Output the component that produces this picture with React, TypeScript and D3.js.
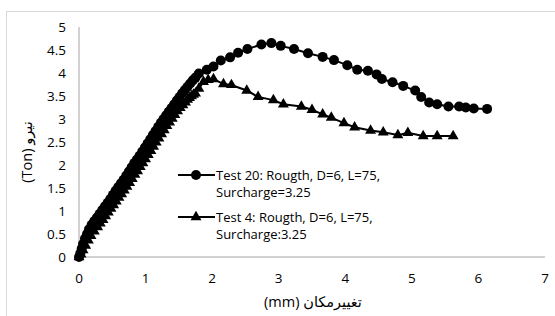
import React from 'react';
import * as d3 from 'd3';

// Test 20 (circles)
const test20X = [0, 0.02, 0.04, 0.06, 0.09, 0.12, 0.15, 0.19, 0.23, 0.27, 0.31, 0.35, 0.39, 0.43, 0.47, 0.51, 0.55, 0.59, 0.63, 0.67, 0.71, 0.75, 0.79, 0.83, 0.87, 0.91, 0.95, 0.99, 1.03, 1.07, 1.11, 1.15, 1.19, 1.23, 1.27, 1.31, 1.35, 1.39, 1.43, 1.47, 1.51, 1.55, 1.59, 1.63, 1.67, 1.71, 1.75, 1.8,
  1.92, 2.02, 2.13, 2.27, 2.39, 2.53, 2.74, 2.89, 3.03, 3.23, 3.44, 3.66, 3.83, 4.03, 4.18, 4.34, 4.47, 4.55, 4.71, 4.87, 5.05, 5.14, 5.26, 5.38, 5.55, 5.71, 5.81, 5.93, 6.13];
const test20Y = [0, 0.08, 0.18, 0.28, 0.4, 0.5, 0.6, 0.7, 0.78, 0.86, 0.94, 1.02, 1.1, 1.18, 1.26, 1.35, 1.44, 1.52, 1.6, 1.68, 1.77, 1.86, 1.95, 2.04, 2.12, 2.2, 2.29, 2.38, 2.47, 2.56, 2.65, 2.74, 2.83, 2.92, 3.0, 3.08, 3.16, 3.24, 3.32, 3.4, 3.48, 3.56, 3.63, 3.7, 3.77, 3.84, 3.9, 3.99,
  4.07, 4.14, 4.27, 4.34, 4.44, 4.52, 4.62, 4.65, 4.59, 4.52, 4.43, 4.35, 4.28, 4.17, 4.07, 4.05, 3.97, 3.87, 3.8, 3.72, 3.62, 3.48, 3.36, 3.32, 3.27, 3.27, 3.25, 3.23, 3.22];

// Test 4 (triangles)
const test4X = [0, 0.03, 0.06, 0.1, 0.14, 0.18, 0.23, 0.28, 0.32, 0.36, 0.4, 0.44, 0.48, 0.52, 0.56, 0.6, 0.64, 0.68, 0.72, 0.76, 0.8, 0.84, 0.88, 0.92, 0.96, 1.0, 1.04, 1.08, 1.12, 1.16, 1.2, 1.24, 1.28, 1.32, 1.36, 1.4, 1.44, 1.48, 1.52, 1.56, 1.6, 1.63, 1.66, 1.69, 1.72, 1.75, 1.8, 1.87, 1.94, 2.02,
  2.17, 2.29, 2.52, 2.69, 2.92, 3.07, 3.34, 3.5, 3.66, 3.79, 3.98, 4.14, 4.38, 4.57, 4.79, 4.94, 5.17, 5.38, 5.62];
const test4Y = [0, 0.06, 0.15, 0.25, 0.36, 0.46, 0.56, 0.65, 0.73, 0.81, 0.89, 0.97, 1.05, 1.13, 1.21, 1.29, 1.37, 1.45, 1.53, 1.61, 1.7, 1.79, 1.87, 1.96, 2.04, 2.13, 2.22, 2.31, 2.4, 2.49, 2.58, 2.67, 2.76, 2.85, 2.93, 3.01, 3.09, 3.17, 3.24, 3.3, 3.36, 3.42, 3.46, 3.5, 3.53, 3.56, 3.66, 3.81, 3.85, 3.87,
  3.76, 3.74, 3.62, 3.48, 3.41, 3.32, 3.27, 3.2, 3.1, 3.03, 2.91, 2.82, 2.75, 2.71, 2.65, 2.7, 2.63, 2.63, 2.63];

const xTicks = [0, 1, 2, 3, 4, 5, 6, 7];
const yTicks = [0, 0.5, 1, 1.5, 2, 2.5, 3, 3.5, 4, 4.5, 5];

const legendLines = [
  ['Test 20: Rougth, D=6, L=75,', 'Surcharge=3.25'],
  ['Test 4: Rougth, D=6, L=75,', 'Surcharge:3.25'],
];

const width = 555;
const height = 316;
const font = '"Open Sans", "DejaVu Sans", sans-serif';

export default function App() {
  const x = d3.scaleLinear().domain([0, 7]).range([79, 545]);
  const y = d3.scaleLinear().domain([0, 5]).range([257, 27]);

  const s20 = test20X.map((v, i) => [v, test20Y[i]] as [number, number]);
  const s4 = test4X.map((v, i) => [v, test4Y[i]] as [number, number]);
  const line = d3.line<[number, number]>().x(d => x(d[0])).y(d => y(d[1]));
  const tri = d3.symbol().type(d3.symbolTriangle).size(52)();

  return (
    <svg width={width} height={height} style={{ position: 'absolute', left: 0, top: 0 }} fontFamily={font}>
      <rect x={0} y={0} width={width} height={height} fill="#fff" />
      <rect x={6.5} y={11.5} width={700} height={500} fill="none" stroke="#d9d9d9" />

      {/* axes */}
      <line x1={x(0)} x2={x(0)} y1={y(0)} y2={y(5)} stroke="#a6a6a6" />
      <line x1={x(0)} x2={x(7)} y1={y(0)} y2={y(0)} stroke="#a6a6a6" />
      {yTicks.map(t => (
        <text key={t} x={66} y={y(t)} dy="0.35em" textAnchor="end" fontSize={13.5} fill="#000">{t}</text>
      ))}
      {xTicks.map(t => (
        <text key={t} x={x(t)} y={278} dy="0.35em" textAnchor="middle" fontSize={13.5} fill="#000">{t}</text>
      ))}
      <text x={313} y={302} dy="0.35em" textAnchor="middle" fontSize={14.5} direction="ltr">(mm) تغییرمکان</text>
      <text transform={`translate(27,152) rotate(-90)`} dy="0.35em" textAnchor="middle" fontSize={14.5} direction="ltr">(Ton) نیرو</text>

      {/* series */}
      <path d={line(s4) || ''} fill="none" stroke="#000" strokeWidth={2} />
      {s4.map((d, i) => (
        <path key={i} d={tri} transform={`translate(${x(d[0])},${y(d[1])})`} fill="#000" />
      ))}
      <path d={line(s20) || ''} fill="none" stroke="#000" strokeWidth={2} />
      {s20.map((d, i) => (
        <circle key={i} cx={x(d[0])} cy={y(d[1])} r={5} fill="#000" />
      ))}

      {/* legend */}
      {legendLines.map((lines, i) => {
        const cy = 175 + i * 42;
        return (
          <g key={i}>
            <line x1={178} x2={215} y1={cy} y2={cy} stroke="#000" strokeWidth={2} />
            {i === 0 ? (
              <circle cx={196} cy={cy} r={5} fill="#000" />
            ) : (
              <path d={tri} transform={`translate(196,${cy})`} fill="#000" />
            )}
            {lines.map((l, j) => (
              <text key={j} x={216} y={cy + j * 17.5} dy="0.35em" fontSize={13} fill="#000">{l}</text>
            ))}
          </g>
        );
      })}
    </svg>
  );
}
